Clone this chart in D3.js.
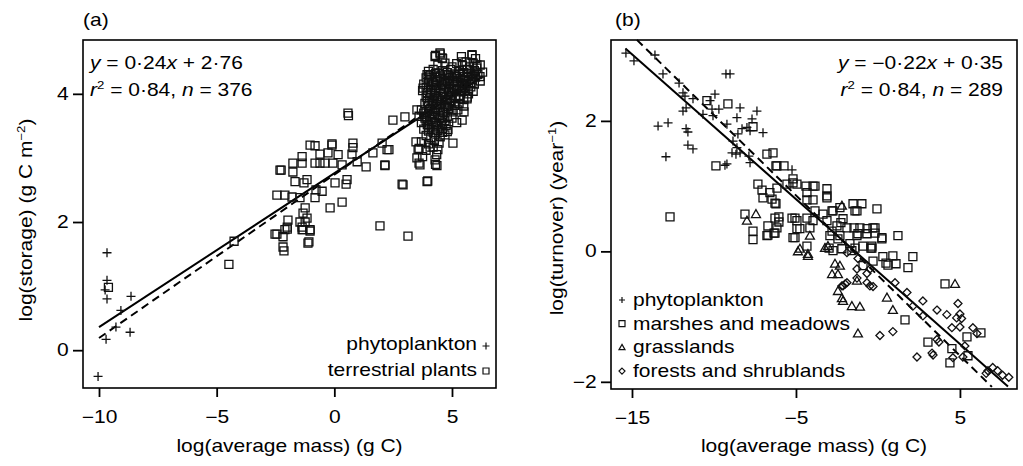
<!DOCTYPE html>
<html>
<head>
<meta charset="utf-8">
<script src="https://cdn.jsdelivr.net/npm/d3@7"></script>
<style>
  body { margin: 0; background: #fff; }
  text { font-family: "Liberation Sans", Arial, Helvetica, sans-serif; fill: #000; }
</style>
</head>
<body>
<svg id="chart" width="1023" height="466"></svg>
<script>
// ---------- panel (a): storage vs mass ----------
var phytoA = [[-9.66,1.52],[-9.66,1.09],[-9.74,0.94],[-9.66,0.8],[-8.64,0.84],[-9.07,0.62],
  [-9.28,0.36],[-8.68,0.28],[-9.7,0.17],[-10.04,-0.41]];

var plantsA = [[-9.6,0.98],[-4.26,1.70],[-4.48,1.34],
  [-2.52,1.81],[-2.18,1.77],[-2.14,1.55],[-2.0,1.89],[-1.37,1.88],[-1.03,1.86],[-1.08,1.69],[-1.46,2.0],
  [1.94,1.94],[3.13,1.78],
  [-1.03,3.2],[-0.82,3.19],[-0.1,3.2],[0.79,3.23],[0.79,3.16],[2.03,3.23],[-1.37,3.02],[-0.61,3.06],
  [-0.27,3.08],[0.16,3.05],[0.75,3.06],[1.64,3.08],[2.24,3.13],[-1.76,2.92],[-1.37,2.92],[-0.82,2.92],
  [-0.61,2.92],[-0.4,2.92],[-0.06,2.92],[0.33,2.89],[0.97,2.94],[1.35,2.86],[2.15,2.89],[-2.31,2.81],
  [-1.76,2.78],[-1.67,2.63],[-1.16,2.66],[-1.29,2.61],[0.03,2.61],[0.54,2.66],[0.5,2.59],[-0.52,2.48],
  [-0.78,2.5],[-2.44,2.42],[-2.1,2.42],[-1.8,2.39],[-1.46,2.38],[-0.82,2.38],[0.33,2.31],[-0.18,2.22],
  [-1.24,2.22],[-1.33,2.14],[-1.16,2.06],[-1.97,2.03],[-1.24,2.0],[-1.37,1.92],[-2.0,1.92],
  [-1.03,1.88],[-2.1,1.88],[-2.44,1.81],[-1.33,1.88],[-1.12,1.67],[-2.18,1.61],
  [0.58,3.7],[0.6,3.66],[2.88,2.59],[3.94,2.63],[-0.1,3.22],[-2.26,2.81],
  [4.49,4.64],[4.58,4.56],[4.28,4.58],[5.85,4.61],[5.43,4.5],[6.19,4.27],[6.06,4.45],[3.94,4.3],
  [3.77,4.09],[5.64,3.92],[5.51,3.72],[5.43,3.59],[2.49,3.59],[3.0,3.64],[3.51,3.75],[4.83,3.44],
  [5.04,3.23],[3.47,3.25],[3.56,3.13],[3.51,3.0],[3.64,2.89],[4.28,2.97],[4.36,2.88],[4.4,3.13],
  [4.07,3.17],[2.32,3.13],[2.15,2.88],[2.92,2.58],[3.97,2.64]];

var plantClusterA = [
  [4.3,4.6],[4.5,4.62],[4.6,4.55],[5.4,4.58],[5.85,4.6],[6.0,4.55],
  [4.4,4.45],[4.7,4.48],[5.0,4.42],[5.2,4.47],[5.45,4.44],[5.6,4.5],[5.75,4.42],[5.9,4.48],[6.05,4.4],[6.2,4.45],
  [4.0,4.35],[4.2,4.38],[4.45,4.32],[4.6,4.36],[4.8,4.33],[4.95,4.38],[5.1,4.31],[5.3,4.36],[5.5,4.33],
  [5.65,4.38],[5.8,4.32],[5.95,4.36],[6.1,4.3],[6.3,4.34],
  [3.9,4.25],[4.05,4.28],[4.3,4.22],[4.5,4.26],[4.7,4.23],[4.85,4.28],[5.05,4.21],[5.2,4.27],[5.35,4.24],
  [5.55,4.22],[5.7,4.27],[5.85,4.22],[6.0,4.26],[6.2,4.2],
  [3.8,4.15],[4.0,4.12],[4.15,4.18],[4.35,4.13],[4.55,4.17],[4.75,4.11],[4.9,4.16],[5.1,4.12],[5.25,4.18],
  [5.45,4.13],[5.6,4.16],[5.8,4.11],[5.95,4.15],
  [3.75,4.05],[3.95,4.02],[4.1,4.07],[4.3,4.03],[4.5,4.08],[4.65,4.02],[4.85,4.06],[5.0,4.01],[5.2,4.07],
  [5.4,4.03],[5.55,4.05],[5.7,4.0],[5.9,4.04],
  [3.9,3.95],[4.05,3.92],[4.25,3.97],[4.4,3.93],[4.6,3.96],[4.8,3.91],[4.95,3.97],[5.15,3.93],[5.3,3.96],
  [5.5,3.91],[5.65,3.95],
  [3.85,3.85],[4.0,3.82],[4.2,3.87],[4.35,3.83],[4.55,3.86],[4.7,3.81],[4.9,3.86],[5.1,3.82],[5.3,3.85],[5.5,3.81],
  [3.7,3.75],[3.9,3.72],[4.1,3.77],[4.3,3.73],[4.5,3.76],[4.65,3.71],[4.85,3.76],[5.05,3.72],[5.25,3.75],
  [3.6,3.65],[3.85,3.62],[4.05,3.67],[4.25,3.63],[4.45,3.66],[4.6,3.61],[4.8,3.65],[5.0,3.62],
  [3.7,3.55],[3.95,3.52],[4.15,3.57],[4.35,3.53],[4.55,3.56],[4.75,3.51],[5.2,3.55],
  [3.8,3.45],[4.0,3.42],[4.2,3.47],[4.4,3.43],[4.6,3.46],[4.8,3.41],
  [3.9,3.35],[4.1,3.32],[4.3,3.37],[4.5,3.33],[4.7,3.36],
  [3.7,3.25],[4.0,3.22],[4.25,3.27],[4.45,3.23],
  [3.6,3.15],[3.9,3.12],[4.2,3.17],
  [3.75,3.02],[4.35,3.05],[3.6,2.92],[4.3,2.9]];

// the dark core of the cluster, where many sites sit on top of each other
var plantCoreA = [
  [4.1,4.3],[4.3,4.32],[4.5,4.28],[4.7,4.3],[4.9,4.25],[5.1,4.28],[5.3,4.3],[5.5,4.27],[5.7,4.32],[5.9,4.28],
  [4.0,4.2],[4.2,4.15],[4.4,4.2],[4.6,4.14],[4.8,4.19],[5.0,4.15],[5.2,4.2],[5.4,4.17],[5.6,4.22],[5.8,4.18],
  [3.9,4.1],[4.1,4.0],[4.3,4.1],[4.5,4.0],[4.7,4.08],[4.9,4.02],[5.1,4.08],[5.3,4.05],[5.5,4.1],[5.7,4.08],
  [3.95,3.88],[4.15,3.9],[4.35,3.95],[4.55,3.9],[4.75,3.95],[4.95,3.9],[5.15,3.97],[5.35,3.92],
  [3.8,3.7],[4.0,3.75],[4.2,3.7],[4.4,3.78],[4.6,3.72],[4.8,3.8],[5.0,3.75],
  [3.9,3.58],[4.1,3.6],[4.3,3.55],[4.5,3.62],[4.7,3.58],
  [4.0,3.5],[4.2,3.4],[4.4,3.5],[4.6,3.4]];

// fitted lines: [slope, intercept, xStart, xEnd]
var fitSolidA = [0.24, 2.76, -10, 6.3];
var fitDashA = [0.255, 2.74, -10, 6.3];
var domainXA = [-10.68, 6.87], domainYA = [-0.59, 4.84];
var ticksXA = [-10, -5, 0, 5], ticksYA = [0, 2, 4];
var eqA = ["0·24", "2·76", "0·84", "376"];

// ---------- panel (b): turnover vs mass ----------
var phytoB = [[-15.37,3.04],[-14.88,2.92],[-13.6,3.01],[-13.11,2.72],[-12.13,2.58],[-11.89,2.43],
  [-11.77,2.38],[-11.28,2.34],[-11.89,2.15],[-11.7,2.2],[-13.41,1.92],[-12.8,1.97],[-11.7,1.88],
  [-11.59,1.83],[-11.59,1.63],[-11.28,1.57],[-12.93,1.45],[-9.27,2.72],[-9.02,2.72],[-9.94,2.41],
  [-10.24,2.31],[-10.12,2.18],[-9.7,2.18],[-10.67,2.1],[-10.06,2.08],[-8.41,2.2],[-7.38,2.15],
  [-8.6,2.05],[-9.21,1.95],[-7.68,2.03],[-8.29,1.88],[-7.99,1.9],[-7.01,1.82],[-7.8,1.85],[-8.54,1.8],
  [-8.84,1.69],[-8.6,1.59],[-8.9,1.51],[-8.66,1.49],[-8.41,1.51],[-7.87,1.46],[-7.8,1.36],[-9.21,1.34],
  [-9.33,1.32],[-5.24,1.25]];

var marshB = [[-10.43,2.31],[-9.15,2.26],[-7.62,1.91],[-9.88,1.31],[-12.68,0.53],[-8.11,0.57],
  [-6.77,1.49],[-6.4,1.51],[-6.22,1.31],[-7.32,1.03],[-7.07,0.94],[-6.59,0.9],[-7.01,0.82],[-6.28,0.74],
  [-6.28,0.51],[-6.71,0.39],[-7.62,0.31],[-7.62,0.18],[-6.77,0.24],[-6.28,0.28],
  [-6.16,1.31],[-5.73,1.31],[-5.18,1.11],[-5.55,1.03],[-4.94,1.03],[-6.16,0.97],[-6.46,0.8],[-6.22,0.73],
  [-4.39,1.0],[-3.96,1.0],[-4.33,0.9],[-4.33,0.79],[-3.96,0.79],[-3.11,0.96],[-3.11,0.82],[-6.04,0.53],
  [-6.04,0.45],[-6.16,0.36],[-6.71,0.25],[-5.18,0.21],[-5.06,0.51],[-4.94,0.35],[-4.76,0.35],[-4.33,0.51],
  [-3.84,0.62],[-3.35,0.57],[-2.8,0.62],[-2.32,0.67],[-2.13,0.5],[-1.52,0.73],[-0.98,0.73],[-1.4,0.62],
  [-0.06,0.65],[-3.11,0.47],[-2.5,0.39],[-2.26,0.44],[-1.89,0.36],[-1.46,0.36],[-1.1,0.36],[-0.67,0.35],
  [-0.3,0.36],[-1.22,0.27],[-0.67,0.27],[-0.18,0.28],[-2.8,0.31],[-4.15,0.36],[-3.96,0.47],[-4.33,0.08],
  [-2.44,0.19],[-2.74,0.01],[-2.2,0.04],[-1.71,0.12],[-1.4,0.05],[-0.92,0.08],[-0.37,0.05],[-1.59,0.01],
  [-0.3,-0.15],[-0.91,-0.22],[-5.18,1.05],[-3.84,1.0],[-3.11,0.85],[-1.28,0.62],[-2.74,0.62],
  [-5.24,0.51],[-4.94,0.47],[1.22,0.24],[0.24,0.21],[-0.18,0.36],[-6.34,0.28],[-5.06,0.21],[-2.93,0.24],
  [-2.32,0.24],[-1.28,0.24],[-0.37,0.08],[0.24,0.19],[-2.98,0.05],[-0.43,0.05],[0.91,-0.07],[1.1,-0.19],
  [0.49,-0.18],[2.13,-0.08],[1.83,-0.25],[0.3,-0.08],[0.61,-0.21],
  [4.09,-0.5],[1.65,-1.05],[6.28,-1.25],[5.43,-1.31],[3.05,-1.39],[4.51,-1.49],[4.39,-1.71],[5.49,-1.6]];

var grassB = [[-7.99,0.47],[-7.44,0.57],[-4.76,0.04],[-4.27,-0.04],[-4.15,0.24],[-4.27,-0.07],
  [-2.62,-0.19],[-2.32,-0.22],[-2.8,-0.35],[-2.44,-0.35],[-2.2,0.7],[-3.23,0.05],[-3.05,0.08],
  [-1.28,-0.45],[-2.44,-0.61],[-2.13,-0.76],[-1.59,-0.84],[-1.1,-0.85],[-2.2,-0.72],[-1.22,-1.26],
  [0.91,-0.9],[0.55,-0.71],[4.7,-0.5],[-4.88,0.0]];

var forestB = [[-1.89,-0.02],[-1.22,-0.11],[-2.13,-0.53],[-1.89,-0.48],[-1.28,-0.41],[-2.2,-0.53],
  [-2.0,-0.5],[-0.67,-0.34],[-0.49,-0.53],[-0.67,-0.48],[-0.3,-0.54],[-1.28,-0.27],[-0.49,-0.27],
  [1.04,-0.48],[1.77,-0.63],[2.74,-0.76],[2.13,-0.84],[2.74,-0.99],[3.6,-0.9],[4.88,-0.8],[4.2,-0.97],
  [4.8,-1.02],[5.1,-1.03],[5.0,-0.96],[4.51,-1.17],[5.0,-1.16],[5.79,-1.17],[6.04,-1.26],[0.12,-1.29],
  [0.91,-1.23],[3.6,-1.35],[3.72,-1.39],[3.3,-1.56],[3.36,-1.59],[2.38,-1.62],[4.57,-1.63],[5.18,-1.62],
  [5.3,-1.45],[6.71,-1.83],[7.0,-1.78],[7.3,-1.83],[7.6,-1.9],[7.98,-1.93],[6.6,-1.87]];

var fitSolidB = [-0.222, -0.31, -15.4, 7.93];
var fitDashB = [-0.2457, -0.37, -14.7, 6.95];
var domainXB = [-16.28, 8.48], domainYB = [-2.11, 3.24];
var ticksXB = [-15, -5, 5], ticksYB = [-2, 0, 2];
var eqB = ["−0·22", "0·35", "0·84", "289"];
var legendB = ["phytoplankton", "marshes and meadows", "grasslands", "forests and shrublands"];

// ---------- drawing ----------
var SX = 1.2;   // the original lettering is wider than Arial
var FS = 17.5;
var svg = d3.select("#chart");

var shapes = {
  plus: function(s) { return "M" + (-s) + ",0H" + s + "M0," + (-s) + "V" + s; },
  square: function(s) { return "M" + (-s) + "," + (-s) + "h" + 2*s + "v" + 2*s + "h" + (-2*s) + "z"; },
  tri: function(s) { return "M0," + (-s) + "L" + s + "," + (s*0.75) + "L" + (-s) + "," + (s*0.75) + "z"; },
  diamond: function(s) { return "M0," + (-s) + "L" + s + ",0L0," + s + "L" + (-s) + ",0z"; }
};

function label(x, y, anchor, size, rot) {
  return svg.append("text")
    .attr("transform", "translate(" + x + "," + y + ")" + (rot ? " rotate(-90)" : "") + " scale(" + SX + ",1)")
    .attr("text-anchor", anchor)
    .style("font-size", size + "px");
}

function points(x, y, data, shape, size) {
  svg.append("g").selectAll("path")
    .data(data)
    .enter().append("path")
      .attr("d", shapes[shape](size))
      .attr("transform", function(d) { return "translate(" + x(d[0]) + "," + y(d[1]) + ")"; })
      .attr("fill", "none")
      .attr("stroke", "#111")
      .attr("stroke-width", 1.3);
}

function fitLine(x, y, f, dashed) {
  svg.append("line")
    .attr("x1", x(f[2])).attr("y1", y(f[0]*f[2] + f[1]))
    .attr("x2", x(f[3])).attr("y2", y(f[0]*f[3] + f[1]))
    .attr("stroke", "#000")
    .attr("stroke-width", 2)
    .attr("stroke-dasharray", dashed ? "8,5" : null);
}

function axes(x, y, fr, tx, ty) {
  var gx = svg.append("g")
    .attr("transform", "translate(0," + fr.bottom + ")")
    .call(d3.axisBottom(x).tickValues(tx).tickFormat(d3.format("d")).tickSize(9).tickSizeOuter(0).tickPadding(14));
  var gy = svg.append("g")
    .attr("transform", "translate(" + fr.left + ",0)")
    .call(d3.axisLeft(y).tickValues(ty).tickFormat(d3.format("d")).tickSize(10).tickSizeOuter(0));
  [gx, gy].forEach(function(g) {
    g.select(".domain").remove();
    g.selectAll("line").attr("stroke", "#000").attr("stroke-width", 1.8);
    g.selectAll("text").style("font-size", FS + "px").attr("font-family", null);
  });
  gx.selectAll("text").attr("transform", "scale(" + SX + ",1)");
  gy.selectAll("text").attr("x", -12).attr("transform", "scale(" + SX + ",1)");
  svg.append("rect")
    .attr("x", fr.left).attr("y", fr.top)
    .attr("width", fr.right - fr.left).attr("height", fr.bottom - fr.top)
    .attr("fill", "none").attr("stroke", "#000").attr("stroke-width", 1.6);
}

function equation(x, y, anchor, eq) {
  var t1 = label(x, y, anchor, FS);
  t1.append("tspan").style("font-style", "italic").text("y");
  t1.append("tspan").text(" = " + eq[0]);
  t1.append("tspan").style("font-style", "italic").text("x");
  t1.append("tspan").text(" + " + eq[1]);
  var t2 = label(x, y + 27, anchor, FS);
  t2.append("tspan").style("font-style", "italic").text("r");
  t2.append("tspan").attr("dy", -7).style("font-size", "11px").text("2");
  t2.append("tspan").attr("dy", 7).text(" = " + eq[2] + ", ");
  t2.append("tspan").style("font-style", "italic").text("n");
  t2.append("tspan").text(" = " + eq[3]);
}

// panel (a)
var frA = {left: 83, top: 40, right: 496, bottom: 388};
var xA = d3.scaleLinear().domain(domainXA).range([frA.left, frA.right]);
var yA = d3.scaleLinear().domain(domainYA).range([frA.bottom, frA.top]);

fitLine(xA, yA, fitSolidA, false);
fitLine(xA, yA, fitDashA, true);
points(xA, yA, plantsA, "square", 4);
points(xA, yA, plantClusterA, "square", 4);
points(xA, yA, plantCoreA, "square", 4);
points(xA, yA, phytoA, "plus", 4.5);
axes(xA, yA, frA, ticksXA, ticksYA);
equation(90, 69, "start", eqA);

label(83, 26, "start", FS).text("(a)");
label((frA.left + frA.right) / 2, 452, "middle", FS).text("log(average mass) (g C)");
var ytA = label(32, 220, "middle", FS, true);
ytA.append("tspan").text("log(storage) (g C m");
ytA.append("tspan").attr("dy", -7).style("font-size", "11px").text("−2");
ytA.append("tspan").attr("dy", 7).text(")");

label(477, 350, "end", FS).text("phytoplankton");
label(477, 376, "end", FS).text("terrestrial plants");
svg.append("path").attr("d", shapes.plus(3.5)).attr("transform", "translate(486,346)")
  .attr("fill", "none").attr("stroke", "#111").attr("stroke-width", 1.2);
svg.append("path").attr("d", shapes.square(3)).attr("transform", "translate(486,371)")
  .attr("fill", "none").attr("stroke", "#111").attr("stroke-width", 1.2);

// panel (b)
var frB = {left: 611, top: 40, right: 1017, bottom: 389};
var xB = d3.scaleLinear().domain(domainXB).range([frB.left, frB.right]);
var yB = d3.scaleLinear().domain(domainYB).range([frB.bottom, frB.top]);

fitLine(xB, yB, fitSolidB, false);
fitLine(xB, yB, fitDashB, true);
points(xB, yB, marshB, "square", 4);
points(xB, yB, grassB, "tri", 4.5);
points(xB, yB, forestB, "diamond", 4);
points(xB, yB, phytoB, "plus", 4.5);
axes(xB, yB, frB, ticksXB, ticksYB);
equation(1003, 69, "end", eqB);

label(615, 26, "start", FS).text("(b)");
label((frB.left + frB.right) / 2, 452, "middle", FS).text("log(average mass) (g C)");
var ytB = label(563, 218, "middle", FS, true);
ytB.append("tspan").text("log(turnover) (year");
ytB.append("tspan").attr("dy", -7).style("font-size", "11px").text("−1");
ytB.append("tspan").attr("dy", 7).text(")");

var legShapes = ["plus", "square", "tri", "diamond"];
legendB.forEach(function(name, i) {
  var yy = 306 + i * 23.7;
  label(633, yy, "start", FS).text(name);
  svg.append("path").attr("d", shapes[legShapes[i]](3))
    .attr("transform", "translate(622," + (yy - 6) + ")")
    .attr("fill", "none").attr("stroke", "#111").attr("stroke-width", 1.2);
});
</script>
</body>
</html>
